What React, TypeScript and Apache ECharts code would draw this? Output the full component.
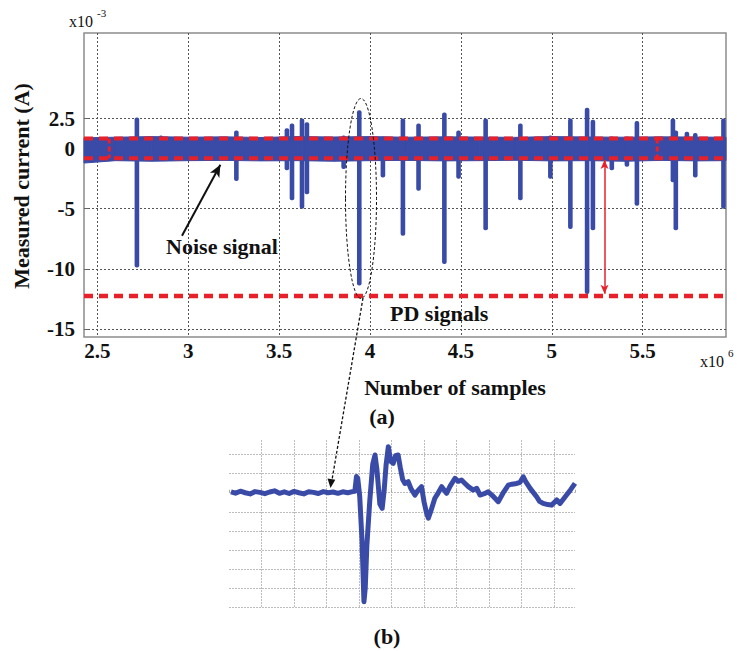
import React, { useEffect, useRef } from 'react';
import * as echarts from 'echarts';

// ---- (a) top chart data ----
const xTicks = [2.5, 3, 3.5, 4, 4.5, 5, 5.5];
const yTicks = [2.5, 0, -5, -10, -15];

// noise band envelope (x10^6 samples, x10^-3 A)
const bandX = [2.427, 2.6, 2.8, 3.0, 3.2, 3.4, 3.6, 3.8, 4.0, 4.2, 4.4, 4.6, 4.8, 5.0, 5.2, 5.4, 5.6, 5.8, 5.958];
const bandUpper = [0.9, 0.95, 1.0, 0.95, 0.98, 0.93, 1.0, 0.97, 1.0, 0.95, 0.98, 0.96, 0.94, 1.0, 0.97, 0.95, 0.98, 0.96, 0.95];
const bandLower = [-1.2, -1.0, -1.05, -1.0, -0.98, -1.02, -1.0, -1.05, -1.0, -0.98, -1.02, -1.0, -0.97, -1.02, -1.0, -1.05, -0.98, -1.02, -1.0];

// PD spikes: position, positive peak, negative peak
const spikeX = [2.718, 2.85, 3.265, 3.543, 3.571, 3.626, 3.653, 3.855, 3.941, 4.071, 4.181, 4.267, 4.409, 4.487, 4.636, 4.827, 4.992, 5.102, 5.194, 5.226, 5.33, 5.413, 5.468, 5.666, 5.682, 5.743, 5.789, 5.944];
const spikeTop = [2.6, 1.1, 1.5, 1.7, 2.1, 2.5, 2.2, 1.1, 3.2, 1.0, 2.5, 2.1, 3.0, 1.5, 2.5, 2.1, 1.1, 2.5, 3.4, 2.4, 1.0, 1.0, 2.3, 2.5, 1.5, 1.4, 1.3, 2.5];
const spikeBottom = [-9.9, -1.0, -2.7, -1.8, -4.3, -5.0, -3.8, -1.7, -11.4, -2.4, -7.25, -3.5, -9.6, -2.5, -6.8, -4.3, -2.5, -6.7, -12.1, -6.8, -1.8, -1.5, -4.75, -2.8, -6.8, -1.0, -2.4, -5.0];

const noiseThresholds = [0.85, -0.8];
const noiseBoxEdges = [2.566, 5.58];
const pdThreshold = -12.27;
const pdArrowX = 5.29;
const noiseArrow = [[2.966, -7.25], [3.177, -1.35]];

// ---- (b) zoomed pulse (grid units) ----
const pulseX = [0.06, 0.2, 0.35, 0.5, 0.65, 0.8, 0.95, 1.1, 1.25, 1.4, 1.55, 1.7, 1.85, 2.0, 2.15, 2.3, 2.45, 2.6, 2.75, 2.9, 3.05, 3.2, 3.35, 3.5, 3.65, 3.8, 3.87,
  3.92, 3.96, 4.02, 4.09, 4.15, 4.19, 4.24, 4.33, 4.42, 4.49, 4.55, 4.64, 4.71, 4.77, 4.83, 4.9, 4.97, 5.05, 5.12, 5.2, 5.27, 5.34, 5.41, 5.51, 5.6, 5.72, 5.8, 5.92,
  6.0, 6.08, 6.13, 6.2, 6.33, 6.4, 6.54, 6.69, 6.8, 6.95, 7.05, 7.15, 7.25, 7.36, 7.51, 7.62, 7.72, 7.85, 7.97, 8.1, 8.28, 8.45, 8.59, 8.7, 8.85, 8.95, 9.05, 9.12,
  9.26, 9.46, 9.55, 9.66, 9.8, 9.92, 10.08, 10.18, 10.38, 10.5, 10.64];
const pulseY = [0.05, -0.02, 0.08, 0.0, -0.06, 0.06, 0.02, -0.05, 0.04, 0.1, -0.03, 0.05, -0.04, 0.07, 0.0, -0.06, 0.05, 0.02, -0.04, 0.06, 0.0, 0.04, -0.03, 0.05, 0.0, 0.06, 0.08,
  0.85, 0.75, -0.2, -2.5, -5.72, -5.0, -2.75, -0.4, 1.5, 1.98, 1.2, -0.6, -0.82, 0.1, 1.45, 2.42, 1.65, 1.54, 1.95, 1.98, 1.3, 0.7, 0.49, 0.58, 0.2, -0.12, 0.1, 0.32,
  -0.5, -1.1, -1.34, -1.0, -0.29, -0.1, 0.32, -0.03, 0.35, 0.76, 0.6, 0.67, 0.5, 0.32, 0.14, 0.23, -0.12, -0.05, 0.05, -0.15, -0.47, 0.05, 0.4, 0.45, 0.49, 0.55, 0.84, 0.6,
  0.23, -0.21, -0.45, -0.56, -0.62, -0.65, -0.38, -0.56, -0.12, 0.15, 0.49];

const BLUE = '#3a4ba7';
const RED = '#e8202a';
const SERIF = '"Liberation Serif", "Times New Roman", serif';

const X0 = [2.427, 5.958];
const Y0 = [-15.68, 9.625];

export default function App() {
  const ref = useRef<HTMLDivElement>(null);
  useEffect(() => {
    if (!ref.current) return;
    const chart = echarts.init(ref.current, undefined, { renderer: 'svg' });

    const hLine = (y: number) => [[X0[0], y], [X0[1], y]];
    const vLine = (x: number) => [[x, noiseThresholds[0]], [x, noiseThresholds[1]]];
    const redDash = (data: number[][], width: number, dash: number[]) => ({
      type: 'line', xAxisIndex: 0, yAxisIndex: 0, data, symbol: 'none', silent: true, z: 5,
      lineStyle: { color: RED, width, type: dash }, animation: false,
    });

    const option: any = {
      animation: false,
      backgroundColor: '#ffffff',
      grid: [
        { left: 84, top: 33, width: 642, height: 304, show: true, borderColor: '#8c8c8c', borderWidth: 1.5, backgroundColor: 'transparent' },
        { left: 229, top: 440, width: 346, height: 167 },
      ],
      xAxis: [
        {
          type: 'value', gridIndex: 0, min: X0[0], max: X0[1],
          axisLine: { show: false },
          axisTick: { show: true, inside: true, length: 5, customValues: xTicks, lineStyle: { color: '#666' } },
          axisLabel: { customValues: xTicks, formatter: (v: number) => String(v), fontFamily: SERIF, fontWeight: 'bold', fontSize: 21, color: '#111', margin: 3 },
          splitLine: { show: true, lineStyle: { type: [2, 2], color: '#555', width: 1 } },
        },
        {
          type: 'value', gridIndex: 1, min: 0, max: 10.64, interval: 1,
          axisLine: { show: false },
          axisTick: { show: true, inside: true, length: 3, lineStyle: { color: '#aaa' } },
          axisLabel: { show: false },
          splitLine: { show: true, showMinLine: false, showMaxLine: false, lineStyle: { type: [2, 1], color: '#bdbdbd', width: 1 } },
        },
      ],
      yAxis: [
        {
          type: 'value', gridIndex: 0, min: Y0[0], max: Y0[1],
          axisLine: { show: false },
          axisTick: { show: true, inside: true, length: 5, customValues: yTicks, lineStyle: { color: '#666' } },
          axisLabel: { customValues: yTicks, formatter: (v: number) => String(v), fontFamily: SERIF, fontWeight: 'bold', fontSize: 21, color: '#111', margin: 9 },
          splitLine: { show: true, lineStyle: { type: [2, 2], color: '#555', width: 1 } },
        },
        {
          type: 'value', gridIndex: 1, min: -6, max: 2.77, interval: 1,
          axisLine: { show: false }, axisTick: { show: false }, axisLabel: { show: false },
          splitLine: { show: true, showMaxLine: false, lineStyle: { type: [2, 1], color: '#bdbdbd', width: 1 } },
        },
      ],
      series: [
        {
          type: 'custom', xAxisIndex: 0, yAxisIndex: 0, z: 2, silent: true,
          data: bandX.map((x, i) => [x, bandUpper[i], bandLower[i]]),
          encode: { x: 0, y: [1, 2] },
          renderItem: (params: any, api: any) => {
            const i = params.dataIndex;
            if (i >= bandX.length - 1) return null;
            const a = api.coord([bandX[i], bandUpper[i]]);
            const b = api.coord([bandX[i + 1], bandUpper[i + 1]]);
            const c = api.coord([bandX[i + 1], bandLower[i + 1]]);
            const d = api.coord([bandX[i], bandLower[i]]);
            return { type: 'polygon', shape: { points: [a, b, c, d] }, style: { fill: BLUE, stroke: BLUE, lineWidth: 1 } };
          },
        },
        {
          type: 'custom', xAxisIndex: 0, yAxisIndex: 0, z: 3, silent: true,
          data: spikeX.map((x, i) => [x, spikeTop[i], spikeBottom[i]]),
          encode: { x: 0, y: [1, 2] },
          renderItem: (params: any, api: any) => {
            const t = api.coord([api.value(0), api.value(1)]);
            const b = api.coord([api.value(0), api.value(2)]);
            return { type: 'rect', shape: { x: t[0] - 2.3, y: t[1], width: 4.6, height: b[1] - t[1], r: 2 }, style: { fill: BLUE } };
          },
        },
        redDash(hLine(noiseThresholds[0]), 4, [9, 6]),
        redDash(hLine(noiseThresholds[1]), 4, [9, 6]),
        redDash(vLine(noiseBoxEdges[0]), 3, [5, 3]),
        redDash(vLine(noiseBoxEdges[1]), 3, [5, 3]),
        {
          ...redDash(hLine(pdThreshold), 4.5, [9, 6]),
          markLine: {
            silent: true, animation: false, label: { show: false },
            data: [
              [
                { coord: [pdArrowX, noiseThresholds[1] - 0.15], symbol: 'arrow', symbolSize: [6, 9], lineStyle: { color: RED, width: 1.5, type: 'solid' } },
                { coord: [pdArrowX, pdThreshold + 0.2], symbol: 'arrow', symbolSize: [6, 9] },
              ],
              [
                { coord: noiseArrow[0], symbol: 'none', lineStyle: { color: '#111', width: 2, type: 'solid' } },
                { coord: noiseArrow[1], symbol: 'arrow', symbolSize: [8, 12] },
              ],
            ],
          },
        },
        {
          type: 'line', xAxisIndex: 1, yAxisIndex: 1, symbol: 'none', silent: true,
          data: pulseX.map((x, i) => [x, pulseY[i]]),
          lineStyle: { color: BLUE, width: 5, join: 'round' },
        },
      ],
      graphic: [
        { type: 'text', z: 100, x: 21, y: 186, rotation: Math.PI / 2, style: { text: 'Measured current (A)', font: `bold 22px ${SERIF}`, fill: '#111', textAlign: 'center', textVerticalAlign: 'middle' } },
        { type: 'text', z: 100, x: 69, y: 21, style: { text: 'x10', font: `16px ${SERIF}`, fill: '#111', textAlign: 'left', textVerticalAlign: 'middle' } },
        { type: 'text', z: 100, x: 97, y: 13, style: { text: '-3', font: `11px ${SERIF}`, fill: '#111', textAlign: 'left', textVerticalAlign: 'middle' } },
        { type: 'text', z: 100, x: 700, y: 361, style: { text: 'x10', font: `16px ${SERIF}`, fill: '#111', textAlign: 'left', textVerticalAlign: 'middle' } },
        { type: 'text', z: 100, x: 728, y: 353, style: { text: '6', font: `11px ${SERIF}`, fill: '#111', textAlign: 'left', textVerticalAlign: 'middle' } },
        { type: 'text', z: 100, x: 222, y: 246, style: { text: 'Noise signal', font: `bold 22px ${SERIF}`, fill: '#111', textAlign: 'center', textVerticalAlign: 'middle' } },
        { type: 'text', z: 100, x: 390, y: 313, style: { text: 'PD signals', font: `bold 22px ${SERIF}`, fill: '#111', textAlign: 'left', textVerticalAlign: 'middle' } },
        { type: 'text', z: 100, x: 455, y: 387, style: { text: 'Number of samples', font: `bold 22px ${SERIF}`, fill: '#111', textAlign: 'center', textVerticalAlign: 'middle' } },
        { type: 'text', z: 100, x: 382, y: 416, style: { text: '(a)', font: `bold 22px ${SERIF}`, fill: '#111', textAlign: 'center', textVerticalAlign: 'middle' } },
        { type: 'text', z: 100, x: 387, y: 636, style: { text: '(b)', font: `bold 22px ${SERIF}`, fill: '#111', textAlign: 'center', textVerticalAlign: 'middle' } },
        { type: 'ellipse', z: 100, shape: { cx: 361, cy: 198.5, rx: 15.5, ry: 100 }, style: { fill: 'none', stroke: '#111', lineWidth: 1, lineDash: [3, 2] } },
        { type: 'line', z: 100, shape: { x1: 363, y1: 298, x2: 332, y2: 480 }, style: { stroke: '#111', lineWidth: 1.3, lineDash: [3, 2] } },
        { type: 'polygon', z: 100, shape: { points: [[330.5, 488], [335.3, 479.7], [327.5, 478.5]] }, style: { fill: '#111' } },
      ],
    };
    chart.setOption(option);
    return () => chart.dispose();
  }, []);
  return <div ref={ref} style={{ position: 'fixed', left: 0, top: 0, width: 737, height: 651, background: '#fff' }} />;
}
